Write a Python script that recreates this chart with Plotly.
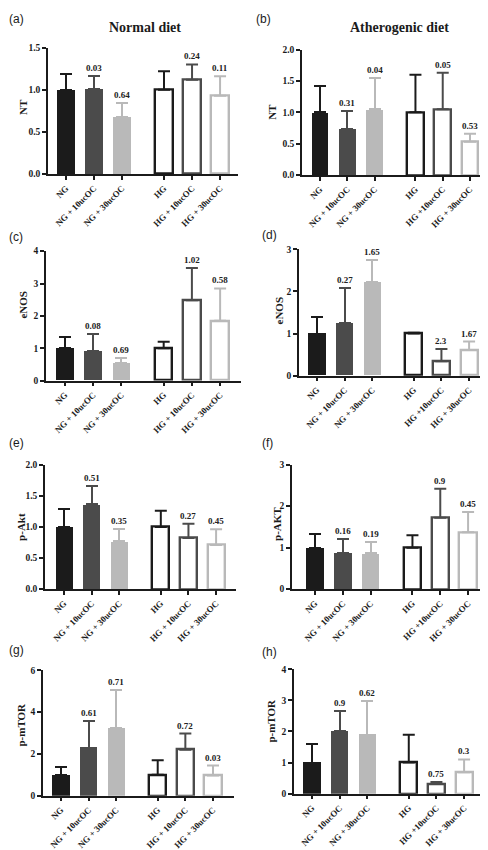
import plotly.graph_objects as go

W, H = 488, 850

# ---------------- data ----------------
labels_left = ["NG", "NG + 10ucOC", "NG + 30ucOC", "HG", "HG + 10ucOC", "HG + 30ucOC"]
labels_right = ["NG", "NG + 10ucOC", "NG + 30ucOC", "HG", "HG +10ucOC", "HG + 30ucOC"]

nt_normal_mean = [1.0, 1.01, 0.68, 1.0, 1.12, 0.93]
nt_normal_err = [0.19, 0.15, 0.16, 0.22, 0.18, 0.23]
nt_normal_p = ["", "0.03", "0.64", "", "0.24", "0.11"]

nt_athero_mean = [1.0, 0.74, 1.05, 1.0, 1.05, 0.53]
nt_athero_err = [0.42, 0.28, 0.49, 0.60, 0.58, 0.13]
nt_athero_p = ["", "0.31", "0.04", "", "0.05", "0.53"]

enos_normal_mean = [1.0, 0.91, 0.54, 1.0, 2.48, 1.85]
enos_normal_err = [0.36, 0.52, 0.15, 0.20, 1.0, 1.0]
enos_normal_p = ["", "0.08", "0.69", "", "1.02", "0.58"]

enos_athero_mean = [1.0, 1.25, 2.22, 1.0, 0.34, 0.61]
enos_athero_err = [0.38, 0.83, 0.52, 0.02, 0.29, 0.20]
enos_athero_p = ["", "0.27", "1.65", "", "2.3", "1.67"]

akt_normal_mean = [1.0, 1.36, 0.77, 1.0, 0.82, 0.71]
akt_normal_err = [0.28, 0.29, 0.20, 0.26, 0.23, 0.25]
akt_normal_p = ["", "0.51", "0.35", "", "0.27", "0.45"]

akt_athero_mean = [1.0, 0.87, 0.86, 1.0, 1.72, 1.37]
akt_athero_err = [0.32, 0.35, 0.27, 0.30, 0.70, 0.49]
akt_athero_p = ["", "0.16", "0.19", "", "0.9", "0.45"]

mtor_normal_mean = [1.0, 2.3, 3.25, 1.0, 2.2, 0.96]
mtor_normal_err = [0.38, 1.26, 1.8, 0.69, 0.77, 0.48]
mtor_normal_p = ["", "0.61", "0.71", "", "0.72", "0.03"]

mtor_athero_mean = [1.0, 2.02, 1.9, 1.0, 0.32, 0.69]
mtor_athero_err = [0.61, 0.63, 1.07, 0.89, 0.06, 0.41]
mtor_athero_p = ["", "0.9", "0.62", "", "0.75", "0.3"]

y_titles = ["NT", "NT", "eNOS", "eNOS", "p-Akt", "p-AKT", "p-mTOR", "p-mTOR"]
panel_letters = ["(a)", "(b)", "(c)", "(d)", "(e)", "(f)", "(g)", "(h)"]
column_titles = ["Normal diet", "Atherogenic diet"]

ytick_a = [0.0, 0.5, 1.0, 1.5]
ytick_b = [0.0, 0.5, 1.0, 1.5, 2.0]
ytick_c = [0, 1, 2, 3, 4]
ytick_d = [0, 1, 2, 3]
ytick_e = [0.0, 0.5, 1.0, 1.5, 2.0]
ytick_f = [0, 1, 2, 3]
ytick_g = [0, 2, 4, 6]
ytick_h = [0, 1, 2, 3, 4]

# ---------------- layout / style ----------------
SERIF = "Liberation Serif"
SANS = "Liberation Sans"
colors = ["#1b1b1b", "#4b4b4b", "#b9b9b9"]
AX = "#1b1b1b"

# x positions: two groups of three bars with a gap
x_pos = [g * 3.5 + i for g in range(2) for i in range(3)]

panels = [
    dict(m=nt_normal_mean, e=nt_normal_err, p=nt_normal_p, lab=labels_left, ticks=ytick_a, fmt=".1f",
         box=(40, 230, 163, 35), xr=(-0.64, 6.14), yt=(15, 95), let=(8, 6)),
    dict(m=nt_athero_mean, e=nt_athero_err, p=nt_athero_p, lab=labels_right, ticks=ytick_b, fmt=".1f",
         box=(294, 486, 164, 37), xr=(-0.66, 6.38), yt=(264, 100), let=(255, 6)),
    dict(m=enos_normal_mean, e=enos_normal_err, p=enos_normal_p, lab=labels_left, ticks=ytick_c, fmt="d",
         box=(38, 233, 372, 241), xr=(-0.67, 6.24), yt=(15, 295), let=(8, 227)),
    dict(m=enos_athero_mean, e=enos_athero_err, p=enos_athero_p, lab=labels_right, ticks=ytick_d, fmt="d",
         box=(291, 481, 367, 239), xr=(-0.65, 6.22), yt=(271, 301), let=(261, 225)),
    dict(m=akt_normal_mean, e=akt_normal_err, p=akt_normal_p, lab=labels_left, ticks=ytick_e, fmt=".1f",
         box=(37, 228, 583, 457), xr=(-0.69, 6.22), yt=(13, 520), let=(8, 435)),
    dict(m=akt_athero_mean, e=akt_athero_err, p=akt_athero_p, lab=labels_right, ticks=ytick_f, fmt="d",
         box=(284, 479, 583, 457), xr=(-0.83, 6.18), yt=(269, 517), let=(259, 435)),
    dict(m=mtor_normal_mean, e=mtor_normal_err, p=mtor_normal_p, lab=labels_left, ticks=ytick_g, fmt="d",
         box=(35, 226, 792, 665), xr=(-0.65, 6.26), yt=(13, 720), let=(8, 645)),
    dict(m=mtor_athero_mean, e=mtor_athero_err, p=mtor_athero_p, lab=labels_right, ticks=ytick_h, fmt="d",
         box=(286, 476, 790, 664), xr=(-0.65, 6.22), yt=(263, 716), let=(261, 647)),
]

fig = go.Figure()
annotations = []
layout = {}

for k, pn in enumerate(panels):
    n = k + 1
    xa = "x" if n == 1 else f"x{n}"
    ya = "y" if n == 1 else f"y{n}"
    xkey = "xaxis" if n == 1 else f"xaxis{n}"
    ykey = "yaxis" if n == 1 else f"yaxis{n}"
    left, right, y0px, ytpx = pn["box"]

    for i in range(6):
        c = colors[i % 3]
        hollow = i >= 3
        fig.add_trace(go.Bar(
            x=[x_pos[i]], y=[pn["m"][i]], width=0.62,
            xaxis=xa, yaxis=ya, showlegend=False,
            marker=dict(color="white" if hollow else c,
                        line=dict(color=c, width=2.4 if hollow else 0)),
            error_y=dict(type="data", symmetric=False, array=[pn["e"][i]], arrayminus=[0],
                         color=c, thickness=2, width=6),
        ))
        if pn["p"][i]:
            annotations.append(dict(
                x=x_pos[i], y=pn["m"][i] + pn["e"][i], xref=xa, yref=ya,
                text=pn["p"][i], showarrow=False, yanchor="bottom", yshift=1,
                font=dict(family=SERIF, size=9, color="#222222", weight="bold"),
            ))

    layout[xkey] = dict(
        domain=[left / W, right / W], anchor=ya, range=list(pn["xr"]),
        tickmode="array", tickvals=x_pos, ticktext=pn["lab"], tickangle=-45,
        showline=True, linecolor=AX, linewidth=1.5, ticks="outside", ticklen=4,
        tickwidth=1.5, tickcolor=AX, showgrid=False, zeroline=False,
        tickfont=dict(family=SERIF, size=8.8, color="#1b1b1b", weight="bold"),
    )
    layout[ykey] = dict(
        domain=[1 - y0px / H, 1 - ytpx / H], anchor=xa,
        range=[pn["ticks"][0], pn["ticks"][-1]],
        tickmode="array", tickvals=pn["ticks"],
        ticktext=[format(t, pn["fmt"]) if pn["fmt"] != "d" else str(int(t)) for t in pn["ticks"]],
        showline=True, linecolor=AX, linewidth=1.5, ticks="outside", ticklen=4,
        tickwidth=1.5, tickcolor=AX, showgrid=False, zeroline=False,
        tickfont=dict(family=SERIF, size=9.5, color="#1b1b1b", weight="bold"),
    )
    annotations.append(dict(
        x=pn["yt"][0] / W, y=1 - pn["yt"][1] / H, xref="paper", yref="paper",
        text=y_titles[k], textangle=-90, showarrow=False, xanchor="center", yanchor="middle",
        font=dict(family=SERIF, size=11, color="#1b1b1b", weight="bold"),
    ))
    annotations.append(dict(
        x=pn["let"][0] / W, y=1 - pn["let"][1] / H, xref="paper", yref="paper",
        text=panel_letters[k], showarrow=False, xanchor="center", yanchor="middle",
        font=dict(family=SANS, size=12, color="#1b1b1b"),
    ))

for txt, xc in zip(column_titles, (137, 391)):
    annotations.append(dict(
        x=xc / W, y=1 - 15 / H, xref="paper", yref="paper", text=txt, showarrow=False,
        xanchor="center", yanchor="middle",
        font=dict(family=SERIF, size=14, color="#1b1b1b", weight="bold"),
    ))

fig.update_layout(
    width=W, height=H, margin=dict(l=0, r=0, t=0, b=0),
    paper_bgcolor="white", plot_bgcolor="white",
    annotations=annotations, bargap=0, **layout,
)

fig.write_html("out.html")
